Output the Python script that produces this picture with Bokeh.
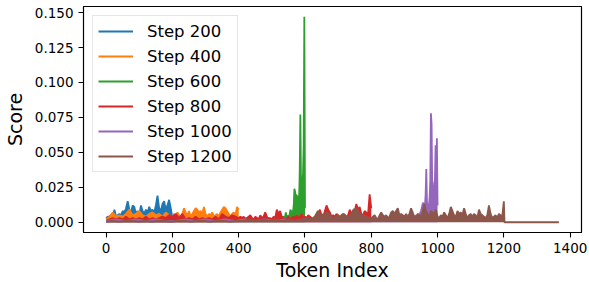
import numpy as np
from bokeh.plotting import figure
from bokeh.models import Range1d, FixedTicker, NumeralTickFormatter, Legend, LegendItem, LinearAxis
from bokeh.embed import file_html
from bokeh.resources import INLINE

# ---------------- data ----------------
series_labels = ["Step 200", "Step 400", "Step 600", "Step 800", "Step 1000", "Step 1200"]
series_colors = ["#1f77b4", "#ff7f0e", "#2ca02c", "#d62728", "#9467bd", "#8c564b"]

x_ticks = [0, 200, 400, 600, 800, 1000, 1200, 1400]
y_ticks = [0.0, 0.025, 0.05, 0.075, 0.1, 0.125, 0.15]

# Step 200: tokens 0-200 (every 5 tokens)
step200_a = [.003, .004, .004, .005, .004, .009, .004, .005, .006, .005, .008, .007, .010, .015,
             .009, .007, .012, .011, .006, .008, .005, .012, .008, .006, .009, .007, .011, .008,
             .009, .007, .012, .019, .010, .008, .013, .015, .009, .012, .016, .010, .003]

# Step 400: tokens 0-200 (every 10), 205-400 (every 5)
step400_a = [.002, .004, .007, .004, .005, .004, .006, .009, .005, .006, .008, .005, .004, .006,
             .007, .005, .006, .004, .007, .005, .004]
step400_b = [.006, .004, .007, .005, .003, .006, .010, .007, .005, .008, .004, .006, .008, .010,
             .009, .007, .008, .006, .011, .006, .004, .006, .005, .007, .004, .005, .006, .004,
             .007, .009, .011, .010, .008, .006, .004, .006, .007, .005, .011, .009]

# Step 600: tokens 0-540 (every 20), 540-600 (every 2)
step600_a = [.001, .002, .001, .002, .001, .002, .002, .001, .002, .001, .002, .001, .002, .002,
             .001, .002, .001, .002, .001, .002, .002, .003, .002, .001, .004, .002, .003, .004]
step600_b = [.004, .007, .005, .004, .003, .005, .004, .006, .009, .008, .005, .006, .008, .012,
             .024, .022, .018, .020, .015, .019, .012, .015, .035, .077, .028, .030, .029, .034,
             .055, .147, .010]

# Step 800: tokens 0-400 (every 10), 405-800 (every 5)
step800_a = [.001, .002, .003, .002, .003, .002, .004, .002, .003, .002, .003, .002, .004, .002,
             .003, .002, .003, .004, .003, .005, .004, .006, .003, .006, .002, .003, .002, .004,
             .002, .003, .002, .003, .002, .004, .002, .006, .004, .003, .005, .004, .003]
step800_b = [.004, .003, .004, .002, .003, .004, .005, .003, .002, .004, .003, .002, .005, .003,
             .004, .007, .004, .002, .003, .002, .004, .003, .009, .006, .008, .004, .003, .002,
             .003, .004, .002, .003, .004, .003, .005, .003, .004, .006, .003, .004, .003, .005,
             .004, .003, .002, .004, .003, .006, .009, .005, .004, .008, .012, .009, .007, .004,
             .005, .004, .006, .005, .003, .005, .006, .004, .003, .005, .009, .006, .004, .008,
             .013, .009, .011, .006, .005, .008, .007, .005, .020, .010]

# Step 1000: tokens 0-930 (every 30), 930-1000 (every 2)
step1000_a = [.001, .002, .001, .002, .001, .002, .001, .001, .002, .001, .002, .001, .002, .001,
              .002, .001, .002, .001, .002, .001, .002, .001, .002, .002, .001, .002, .001, .002,
              .002, .003, .003, .004]
step1000_b = [.004, .005, .004, .005, .004, .005, .006, .005, .005, .007, .008, .010, .012, .014,
              .013, .010, .012, .020, .038, .015, .010, .009, .012, .018, .030, .078, .070, .024,
              .022, .023, .028, .030, .055, .035, .060, .012]

# Step 1200: tokens 0-600 (every 20), 600-800 (every 10), 800-1200 (every 5), then zeros to 1366
step1200_a = [.0005, .001, .0005, .001, .001, .0005, .001, .0005, .001, .001, .0005, .001, .001,
              .0005, .001, .001, .0005, .001, .001, .0005, .001, .001, .002, .001, .002, .001,
              .002, .001, .002, .001, .002]
step1200_b = [.002, .003, .002, .004, .008, .005, .006, .007, .004, .003, .005, .004, .006, .004,
              .005, .009, .010, .006, .005, .004, .003]
step1200_c = [.003, .004, .005, .003, .002, .005, .007, .005, .004, .005, .003, .004, .007, .008,
              .006, .008, .010, .005, .006, .005, .004, .006, .004, .006, .010, .007, .003, .004,
              .006, .005, .004, .007, .013, .008, .006, .004, .008, .007, .006, .009, .004, .003,
              .005, .004, .007, .005, .003, .006, .011, .008, .005, .004, .008, .006, .007, .005,
              .010, .006, .003, .005, .006, .004, .006, .005, .003, .009, .006, .005, .004, .003,
              .005, .012, .006, .003, .004, .005, .003, .006, .005, .004, .015]
step1200_d = [0.0, 0.0]

series_segments = [
    [(0, 200, step200_a)],
    [(0, 200, step400_a), (205, 400, step400_b)],
    [(0, 538, step600_a), (540, 600, step600_b)],
    [(0, 400, step800_a), (405, 800, step800_b)],
    [(0, 928, step1000_a), (930, 1000, step1000_b)],
    [(0, 590, step1200_a), (600, 795, step1200_b), (800, 1200, step1200_c), (1202, 1366, step1200_d)],
]

# ---------------- figure ----------------
FONT = "DejaVu Sans"
p = figure(frame_width=498, frame_height=226,
           x_range=Range1d(-68.3, 1434.3), y_range=Range1d(-0.00735, 0.15435),
           output_backend="svg", toolbar_location=None,
           min_border_left=75, min_border_right=6, min_border_top=6, min_border_bottom=45)
p.xgrid.visible = False
p.ygrid.visible = False
p.outline_line_color = "black"
p.outline_line_width = 1.1
p.background_fill_color = "white"

legend_items = []
for segs, label, color in zip(series_segments, series_labels, series_colors):
    xs = np.concatenate([np.linspace(a, b, len(v)) for a, b, v in segs])
    ys = np.concatenate([np.array(v, dtype=float) for a, b, v in segs])
    p.varea(x=xs, y1=np.zeros_like(ys), y2=ys, fill_color=color, fill_alpha=1.0)
    r = p.line(x=xs, y=ys, line_color=color, line_width=1.8)
    legend_items.append(LegendItem(label=label, renderers=[r]))

x_axis = p.below[0]
y_axis = p.left[0]
x_axis.ticker = FixedTicker(ticks=x_ticks)
y_axis.ticker = FixedTicker(ticks=y_ticks)
y_axis.formatter = NumeralTickFormatter(format="0.000")
x_axis.axis_label = "Token Index"
y_axis.axis_label = "Score"

for ax in (x_axis, y_axis):
    ax.axis_line_color = "black"
    ax.axis_line_width = 1.1
    ax.major_tick_line_color = "black"
    ax.major_tick_line_width = 1.1
    ax.major_tick_out = 5
    ax.major_tick_in = 0
    ax.minor_tick_line_color = None
    ax.major_label_text_font = FONT
    ax.major_label_text_font_size = "13.5px"
    ax.major_label_text_color = "black"
    ax.major_label_standoff = 5
    ax.axis_label_text_font = FONT
    ax.axis_label_text_font_size = "19px"
    ax.axis_label_text_font_style = "normal"
    ax.axis_label_text_color = "black"
x_axis.axis_label_standoff = 3
y_axis.axis_label_standoff = 6

# plain top / right spines to close the box
for side in ("above", "right"):
    spine = LinearAxis(ticker=FixedTicker(ticks=[]), axis_line_color="black", axis_line_width=1.1,
                       major_tick_line_color=None, minor_tick_line_color=None,
                       major_label_text_font_size="0px")
    p.add_layout(spine, side)

legend = Legend(items=legend_items, location="top_left", margin=9,
                label_text_font=FONT, label_text_font_size="16.5px", label_text_color="black",
                glyph_width=35, glyph_height=20, label_height=20, label_standoff=14,
                spacing=5, padding=5,
                border_line_color="#cccccc", border_line_width=1,
                background_fill_color="white", background_fill_alpha=0.8)
p.add_layout(legend)

open("out.html", "w").write(file_html(p, INLINE))
